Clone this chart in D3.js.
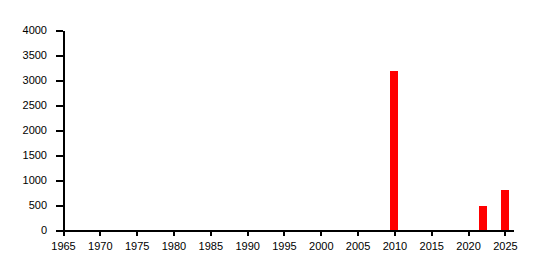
<!DOCTYPE html>
<html>
<head>
<meta charset="utf-8">
<script src="https://cdn.jsdelivr.net/npm/d3@7"></script>
<style>
  body { margin: 0; background: #fff; }
  svg { display: block; }
  svg text { font-family: "Liberation Sans", sans-serif; font-size: 11px; fill: #000; }
</style>
</head>
<body>
<div id="chart"></div>
<script>
const years = [2010, 2022, 2025];
const values = [3190, 490, 810];
const xTicks = [1965, 1970, 1975, 1980, 1985, 1990, 1995, 2000, 2005, 2010, 2015, 2020, 2025];
const yTicks = [0, 500, 1000, 1500, 2000, 2500, 3000, 3500, 4000];

const width = 541;
const height = 270;
const margin = {
  top: 30,
  bottom: 40,
  left: 63,
  right: 28
};
const innerWidth = width - margin.left - margin.right;
const innerHeight = height - margin.top - margin.bottom;

const svg = d3.select('#chart').append('svg')
  .attr('width', width)
  .attr('height', height)
  .attr('shape-rendering', 'crispEdges');
const g = svg.append('g')
  .attr('transform', `translate(${margin.left},${margin.top})`);

const xScale = d3.scaleLinear().domain([1965, 2026.1]).range([0, innerWidth]);
const yScale = d3.scaleLinear().domain([0, 4000]).range([innerHeight, 0]);

const data = years.map((y, i) => ({ year: y, value: values[i] }));
const barHalf = 0.54;

g.selectAll('.bar')
  .data(data)
  .join('rect').attr('class', 'bar')
  .attr('fill', '#ff0000')
  .attr('x', d => xScale(d.year - barHalf))
  .attr('width', d => xScale(d.year + barHalf) - xScale(d.year - barHalf))
  .attr('y', d => yScale(d.value))
  .attr('height', d => yScale(0) - yScale(d.value));

const xAxisG = g.append('g')
  .attr('transform', `translate(0,${innerHeight})`)
  .call(d3.axisBottom(xScale).tickValues(xTicks).tickFormat(d3.format('d')).tickSizeInner(6).tickSizeOuter(0).tickPadding(6));
const yAxisG = g.append('g')
  .call(d3.axisLeft(yScale).tickValues(yTicks).tickFormat(d3.format('d')).tickSizeInner(7).tickSizeOuter(0).tickPadding(9));

svg.selectAll('.domain, .tick line').attr('stroke', '#000').attr('stroke-width', 2);
svg.selectAll('.tick text').attr('font-family', null).attr('font-size', null);
</script>
</body>
</html>
